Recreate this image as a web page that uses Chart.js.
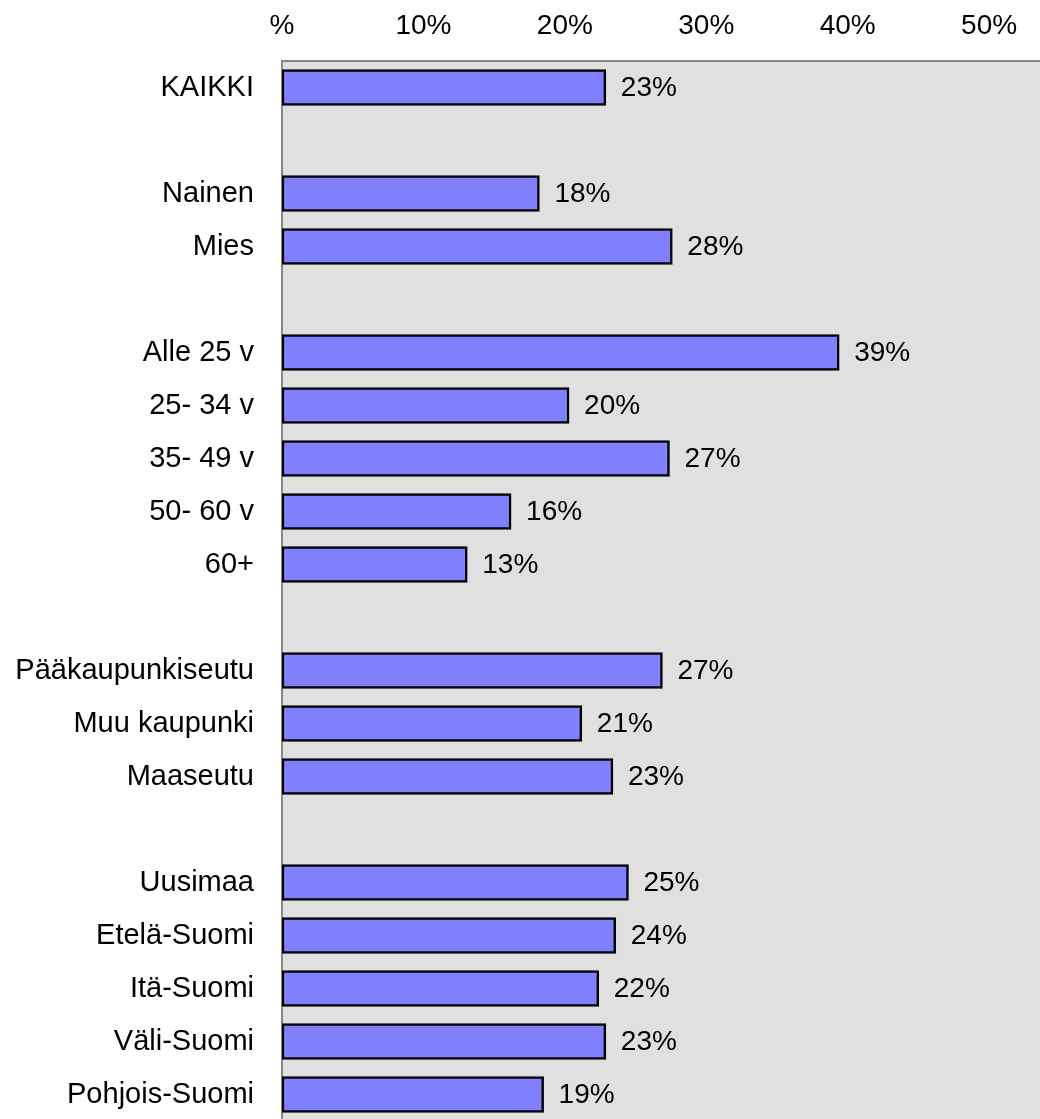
<!DOCTYPE html>
<html>
<head>
<meta charset="utf-8">
<script src="https://cdn.jsdelivr.net/npm/chart.js@4.4.1/dist/chart.umd.min.js"></script>
<style>
  html, body { margin: 0; padding: 0; background: #fff; overflow: hidden; }
</style>
</head>
<body>
<canvas id="barChart" width="1040" height="1121"></canvas>
<script>
// Category rows, empty strings are the gaps between groups
const categories = [
  'KAIKKI', '',
  'Nainen', 'Mies', '',
  'Alle 25 v', '25- 34 v', '35- 49 v', '50- 60 v', '60+', '',
  'Pääkaupunkiseutu', 'Muu kaupunki', 'Maaseutu', '',
  'Uusimaa', 'Etelä-Suomi', 'Itä-Suomi', 'Väli-Suomi', 'Pohjois-Suomi'
];

// Values in percent (null = gap row)
const values = [
  22.9, null,
  18.2, 27.6, null,
  39.4, 20.3, 27.4, 16.2, 13.1, null,
  26.9, 21.2, 23.4, null,
  24.5, 23.6, 22.4, 22.9, 18.5
];

const xTicks = [0, 10, 20, 30, 40, 50];
const xMax = 53.6;

const FONT = '"Liberation Sans", Arial, sans-serif';

// Grey plot background
const plotBackground = {
  id: 'plotBackground',
  beforeDraw: (chart) => {
    const { ctx, chartArea } = chart;
    ctx.save();
    ctx.fillStyle = '#e0e0e0';
    ctx.fillRect(chartArea.left, chartArea.top, chartArea.right - chartArea.left, chartArea.bottom - chartArea.top);
    ctx.restore();
  },
};

// Percent labels to the right of each bar
const valueLabels = {
  id: 'valueLabels',
  afterDatasetsDraw: (chart) => {
    const { ctx } = chart;
    const meta = chart.getDatasetMeta(0);
    ctx.save();
    ctx.font = '28px ' + FONT;
    ctx.fillStyle = '#000';
    ctx.textAlign = 'left';
    ctx.textBaseline = 'middle';
    meta.data.forEach((bar, i) => {
      if (values[i] === null) return;
      ctx.fillText(Math.round(values[i]) + '%', bar.x + 15, bar.y + 1);
    });
    ctx.restore();
  },
};

const ctx = document.getElementById('barChart').getContext('2d');

const chart = new Chart(ctx, {
  type: 'bar',
  data: {
    labels: categories,
    datasets: [
      {
        data: values,
        backgroundColor: '#8080ff',
        borderColor: '#000000',
        borderWidth: 2.5,
        borderSkipped: false,
        barThickness: 36,
      },
    ],
  },
  options: {
    indexAxis: 'y',
    responsive: false,
    animation: false,
    events: [],
    layout: { padding: 0 },
    plugins: {
      legend: { display: false },
      tooltip: { enabled: false },
    },
    scales: {
      x: {
        position: 'top',
        min: 0,
        max: xMax,
        afterBuildTicks: (scale) => {
          scale.ticks = xTicks.map((v) => ({ value: v }));
        },
        afterFit: (scale) => {
          scale.height = 61;
          scale.paddingLeft = 0;
          scale.paddingRight = 0;
        },
        grid: { display: false, drawTicks: false },
        border: { color: '#888888', width: 2 },
        ticks: {
          color: '#000',
          padding: 18,
          maxRotation: 0,
          font: { family: FONT, size: 28 },
          callback: (v) => (v === 0 ? '%' : v + '%'),
        },
      },
      y: {
        afterFit: (scale) => {
          scale.width = 282;
          scale.paddingTop = 0;
          scale.paddingBottom = 0;
        },
        grid: { display: false, drawTicks: false },
        border: { color: '#888888', width: 2 },
        ticks: {
          color: '#000',
          padding: 28,
          autoSkip: false,
          font: { family: FONT, size: 29 },
        },
      },
    },
  },
  plugins: [plotBackground, valueLabels],
});
</script>
</body>
</html>
